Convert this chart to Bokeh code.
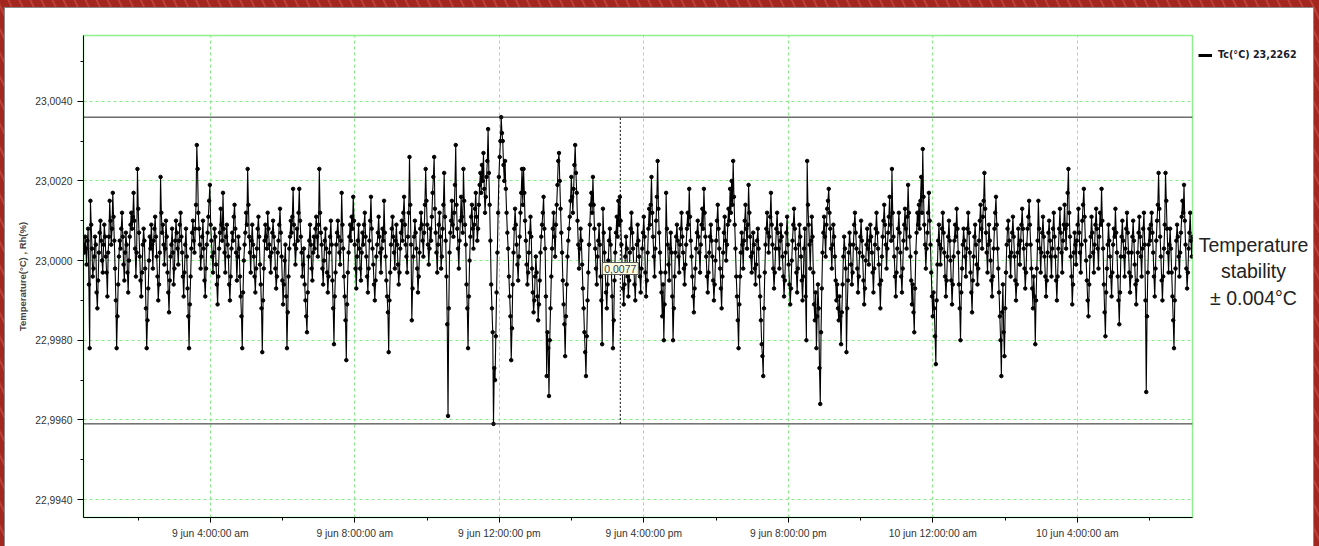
import numpy as np
from bokeh.plotting import figure
from bokeh.layouts import row
from bokeh.models import (FixedTicker, CustomJSTickFormatter, Span, Label, Legend,
                          LegendItem, GlobalInlineStyleSheet)
from bokeh.embed import file_html
from bokeh.resources import INLINE

# Tc readings, deviation from 23,0000 °C in units of 0.0001 °C (left to right)
tc_dev = [
    4, 2, 6, 3, -1, 5, 8, -6, -22, 15, 9, 3, -4, -2, 1, 6, 4, -8, -12, -5, 2, 7, 10, 5, 0, -3, 4, 9, 6, 1,
    -3, -9, 2, 6, 15, 10, 4, 8, 17, 11, 5, -2, -10, -22, -14, -6, 1, 5, 3, 8, 12, 6, -1, -5, 2, 7, 4, -3, -8, 0,
    6, 9, 12, 8, 11, 17, 10, 3, -4, 2, 23, 13, 7, 1, -5, -9, -3, 4, 8, 5, -2, -12, -22, -15, -7, 0, 6, 3, 9, 4,
    -2, 5, 8, 11, 6, 1, -4, -10, -6, 2, 21, 12, 7, 9, 4, -1, 3, 10, 6, -3, -8, -13, -5, 1, 4, 8, 2, -6, -2, 5,
    10, 7, 3, -1, 5, 9, 12, 6, 2, -4, -9, -3, 4, 8, 1, -7, -14, -22, -11, -4, 3, 7, 10, 5, 2, 8, 14, 29, 23, 12,
    8, 4, -2, 1, 6, 10, 3, -5, -9, -2, 4, 7, 11, 15, 19, 9, 5, 1, -3, 2, 8, 6, -1, -6, -11, -4, 3, 7, 13, 9,
    5, 17, 8, 2, -3, 6, 9, 4, 1, -6, -10, -4, 3, 7, 5, 11, 14, 8, 2, -5, 1, 6, 3, -4, -9, -14, -22, -8, 0, 4,
    7, 12, 9, 23, 14, 6, 2, -3, 5, 9, 4, 1, -4, -8, -2, 3, 8, 11, 6, -1, -6, -12, -23, -10, -2, 5, 9, 6, 3, 12,
    8, 4, 1, -3, 2, 7, 10, 6, 3, -2, -7, -4, 2, 5, 9, 13, 7, 1, -5, -11, -6, 0, 4, -9, -22, -13, -4, 3, 6, 10,
    7, 11, 18, 9, 4, -1, 3, 8, 5, 12, 18, 10, 6, 2, -4, -1, 3, -6, -10, -14, -18, -8, 1, 5, 9, 4, -2, -5, 2, 6,
    3, 8, 11, 6, 1, 9, 23, 12, 7, 4, -2, -6, 0, 5, 8, 3, -3, -8, -4, 2, 6, 10, 4, -5, -12, -21, -9, -3, 4, 7,
    10, 6, 2, -1, 5, 17, 9, 3, -4, -9, -15, -25, -11, -3, 2, 6, 9, 5, 11, 8, 16, 10, 4, -2, -7, 1, 5, 9, 3, -2,
    -5, 2, 7, 4, 9, 12, 6, 1, -4, -8, -2, 5, 10, 16, 8, 3, -1, -6, -10, -5, 1, 4, 7, 11, 6, 2, -3, 3, 8, 5,
    15, 7, 1, -5, -9, -13, -23, -10, -3, 4, 8, 11, 6, 2, -2, 5, 9, 4, -1, -6, -3, 3, 7, 10, 5, 12, 16, 9, 4, 1,
    -3, 6, 12, 26, 14, 4, -15, -7, 1, 6, 10, 7, 3, -2, -8, -4, 2, 8, 12, 9, 5, 1, 7, 14, 23, 15, 9, 4, -1, 3,
    8, 5, 11, 17, 21, 26, 13, 7, 2, -3, 4, 9, 12, 6, -2, 1, 8, 14, 22, 11, 5, -4, -16, -39, -12, 2, 7, 10, 15, 9,
    6, 12, 19, 29, 14, 8, 3, -2, 5, 10, 16, 11, 7, 23, 15, 9, 4, -6, -12, -22, -9, 0, 6, 11, 14, 8, 3, 9, 13, 17,
    11, 5, 8, 14, 19, 22, 17, 24, 20, 27, 18, 12, 16, 21, 25, 33, 22, 14, 5, -6, -12, -18, -41, -27, -30, -19, -8, 2, 12, 21,
    26, 30, 36, 32, 30, 24, 20, 25, 18, 12, 7, 3, -4, -9, -14, -25, -17, -6, 2, 8, 13, 9, 4, -1, -5, 1, 6, 12, 17, 23,
    14, 23, 17, 10, 5, -1, -6, -3, 2, 7, 11, 6, -2, -8, -13, -10, -4, 1, -3, -9, -15, -11, -5, 2, 6, 9, 12, 16, 8, 3,
    -9, -29, -18, -22, -34, -20, -12, -4, 3, 8, 12, 6, 1, 9, 14, 19, 25, 27, 20, 13, 7, 2, -5, -11, -16, -24, -14, -6, 1, 5,
    8, 11, 15, 21, 16, 12, 18, 24, 29, 22, 17, 10, 4, -2, 3, 8, 5, -1, -7, -12, -18, -23, -29, -19, -10, -3, 4, 9, 14, 17,
    12, 21, 14, 8, 3, -2, -6, 1, 5, 9, 4, -4, -10, -21, 13, 7, 2, -3, -8, -12, -6, 0, 5, 8, 4, -3, -9, -22, -15, -5,
    2, 7, 11, 6, 15, 9, 16, 10, 4, -2, -7, -11, -6, 1, 6, 3, -4, -9, -5, 2, 8, 12, 7, 3, -1, -6, -10, -3, 4, 9,
    5, 1, -4, -8, -2, 3, 7, 11, 6, -3, -9, -5, 2, 8, 13, 9, 14, 21, 12, 6, 1, -4, 3, 10, 16, 25, 13, 7, 2, -3,
    -8, -14, -6, -20, -11, -3, 17, 8, 4, -1, -5, 3, 7, 2, -9, -20, -12, -4, 2, 6, 9, 5, 1, -3, 4, 8, 12, 6, 2, -2,
    -6, -1, 4, 8, 12, 9, 18, 11, 5, 1, -4, -9, -13, -7, -2, 3, 7, 10, 6, 2, -3, 4, 9, 13, 8, 18, 12, 6, 1, -4,
    -8, -3, 2, 6, 9, 5, 1, -5, -10, -6, 0, 5, 10, 14, 8, 3, -2, -7, -12, -4, 2, 7, 11, 5, 0, 4, 9, 13, 10, 18,
    12, 20, 14, 25, 16, 9, 3, -4, -9, -15, -22, -11, -4, 2, 7, 4, -2, 5, 10, 14, 8, 3, 9, 19, 12, 6, 1, -3, 2, 7,
    4, -2, -6, -1, 5, 8, 3, -4, -9, -15, -21, -24, -29, -12, -3, 4, 8, 12, 7, 2, 6, 11, 17, 9, 4, -2, -7, -3, 3, 8,
    12, 7, 3, -2, 5, 9, 6, 1, -4, -9, -5, 2, 7, 11, 4, -1, -6, -11, -7, 0, 5, 9, 13, 8, 3, -3, -8, -2, 4, 9,
    6, 1, -5, -10, -4, 3, 8, -9, -20, 25, 14, 9, 4, -2, 5, 11, 6, -3, -11, -15, -8, -22, -14, -6, -12, -27, -36, -18, -7, 2,
    7, 11, 6, 1, 9, 13, 15, 18, 12, 8, 3, -2, 4, 9, 6, 1, -5, -10, -6, -12, -15, -9, -14, -21, -13, -6, 1, 6, 3, -2,
    -23, -12, -5, 2, 7, 4, -1, -6, -3, 4, 9, 12, 7, 3, -2, -8, -4, 2, 6, 10, 5, 1, -5, -11, -7, 0, 4, 8, 3, -1,
    5, 9, 6, 2, -3, -8, -2, 4, 8, 12, 7, 3, -1, -6, -12, -5, 1, 6, 10, 14, 9, 4, -2, 3, 7, 11, 16, 9, 5, 23,
    12, 6, 1, -4, -9, -3, 3, 8, 12, 7, 2, -4, -8, -2, 5, 9, 13, 8, 3, 11, 19, 12, 6, 1, -5, -11, -6, -13, -18, -7,
    2, 7, 12, 9, 14, 8, 15, 21, 12, 28, 16, 9, 4, -2, 3, 7, 12, 17, 10, 4, -3, -9, -14, -8, -12, -19, -26, -10, -1, 5,
    9, 4, -1, 3, 8, 12, 7, 2, -4, -9, -5, 1, 6, 10, 5, 0, -5, -11, -6, 1, 5, 9, 6, 13, 8, 2, -6, -12, -20, -8,
    -2, 4, 8, 5, 1, -4, 3, 8, 12, 7, 2, -3, -8, -13, -5, 1, 6, 9, 4, -1, -6, -2, 5, 10, 14, 8, 3, 11, 15, 22,
    13, 7, 2, -3, 4, 9, 5, 0, -5, -9, -4, 3, 8, 12, 16, 9, 3, -2, -8, -14, -20, -29, -13, -6, -18, -24, -12, -3, 4, 8,
    10, 5, 1, -4, 2, 7, 11, 6, 1, -5, -10, -6, 2, 8, 4, -1, 5, 9, 13, 8, 3, -2, -7, -3, 4, 8, 11, 15, 9, 4,
    -2, -7, -12, -4, -9, -21, -10, -2, 5, 15, 8, 3, -3, 2, 7, 11, 6, 1, -4, -9, -5, 2, 7, 10, 5, 1, -4, 3, 8, 12,
    6, 1, -5, -10, -4, 3, 8, 13, 7, 2, -3, 5, 9, 14, 8, 3, 9, 17, 23, 12, 6, 1, -4, -11, -6, 2, 7, 4, -1, 5,
    9, 13, 7, 2, -3, 4, 10, 14, 18, 11, 5, 0, -5, -10, -14, -6, 1, 6, 11, 7, 2, -3, 4, 9, 13, 8, 3, -2, 6, 12,
    9, 18, 10, 3, -6, -13, -19, -8, -2, 4, 9, 5, 1, -4, -9, -3, 4, 8, 6, 13, 7, 2, -4, -10, -16, -8, 1, 6, 10, 5,
    1, -4, 3, 8, 12, 7, 2, -3, -8, -4, 2, 6, 10, 5, -1, -6, -11, -5, 2, 7, 11, 6, 1, -4, 3, 8, 12, 4, -10, -33,
    -14, -3, 4, 8, 5, 9, 12, 7, 2, -4, -9, -2, 5, 10, 14, 22, 13, 6, 1, -5, -10, -4, 3, 9, 22, 15, 8, 2, -3, 4,
    8, 3, -3, -9, -15, -22, -10, -2, 5, 9, 6, 1, -4, 2, 7, 11, 15, 12, 19, 10, 4, -2, -7, -3, 3, 7, 12, 5, 1, 6,
]
base_temp = 23.0
first_hour = 0.49      # hours after 9 jun 0:00
last_hour = 31.19
cursor_hour = 15.35
cursor_label_y = 22.9998

x_ticks = [4, 8, 12, 16, 20, 24, 28]
x_minor = [2, 6, 10, 14, 18, 22, 26, 30]
x_labels = ["9 jun 4:00:00 am", "9 jun 8:00:00 am", "9 jun 12:00:00 pm", "9 jun 4:00:00 pm",
            "9 jun 8:00:00 pm", "10 jun 12:00:00 am", "10 jun 4:00:00 am"]
y_ticks = [22.994, 22.996, 22.998, 23.0, 23.002, 23.004]
y_minor = [22.995, 22.997, 22.999, 23.001, 23.003, 23.005]
legend_text = "Tc(°C) 23,2262"
side_note = ["Temperature", "stability", "± 0.004°C"]

temp = base_temp + np.array(tc_dev) / 1e4
hours = np.linspace(first_hour, last_hour, len(temp))
tmax, tmin = temp.max(), temp.min()

FONT = "Liberation Sans"

p = figure(width=1191, height=538, output_backend="svg", toolbar_location=None,
           x_range=(first_hour, last_hour), y_range=(22.99355, 23.00565),
           min_border_left=78, min_border_right=4, min_border_top=27, min_border_bottom=29,
           background_fill_color="white", border_fill_color="white",
           outline_line_color="#8fef8f", outline_line_width=1.5)

# axes
p.xaxis.ticker = FixedTicker(ticks=x_ticks, minor_ticks=x_minor)
p.xaxis.major_label_overrides = dict(zip(x_ticks, x_labels))
p.yaxis.ticker = FixedTicker(ticks=y_ticks, minor_ticks=y_minor)
p.yaxis.formatter = CustomJSTickFormatter(code="return tick.toFixed(4).replace('.', ',')")
p.yaxis.axis_label = "Temperature(°C) , Rh(%)"
p.yaxis.axis_label_text_font = FONT
p.yaxis.axis_label_text_font_size = "9.5px"
p.yaxis.axis_label_text_font_style = "bold"
p.yaxis.axis_label_standoff = 4
for ax in (p.xaxis, p.yaxis):
    ax.major_label_text_font = FONT
    ax.major_label_text_font_size = "10.3px"
    ax.major_label_text_color = "#333333"
    ax.axis_line_color = "black"
    ax.major_tick_line_color = "black"
    ax.minor_tick_line_color = "black"
    ax.major_tick_in = 0
    ax.minor_tick_in = 0
    ax.minor_tick_out = 3
p.yaxis.major_tick_out = 6
p.xaxis.major_tick_out = 5

for g in (p.xgrid, p.ygrid):
    g.grid_line_color = "#86ec86"
    g.grid_line_dash = "3 3"
    g.grid_line_width = 1

# max / min lines
p.add_layout(Span(location=tmax, dimension="width", line_color="#222222", line_width=1))
p.add_layout(Span(location=tmin, dimension="width", line_color="#222222", line_width=1))

# series
p.line(hours, temp, line_color="black", line_width=1.1)
p.scatter(hours, temp, size=3.5, color="black")

# cursor
p.segment(x0=[cursor_hour], y0=[tmin], x1=[cursor_hour], y1=[tmax],
          line_color="black", line_dash="2 2", line_width=1)
p.add_layout(Label(x=cursor_hour, y=cursor_label_y, text=f"{tmax - tmin:.4f}".replace(".", ","),
                   text_align="center", text_baseline="middle", text_font=FONT,
                   text_font_size="10.5px", text_color="#2b3550",
                   background_fill_color="#ffffe1", border_line_color="#555555", padding=2))

# right-hand strip: legend and note (its frame lines up with the main frame, 35..517 px)
side = figure(width=117, height=538, output_backend="svg", toolbar_location=None,
              x_range=(0, 1), y_range=(0, 1), x_axis_location=None, y_axis_location=None,
              min_border=0, outline_line_color=None,
              background_fill_color="white", border_fill_color="white")
side.grid.visible = False
# legend swatch only: a renderer whose single point lies outside the strip's range
swatch = side.line(x=[-5, -4], y=[-5, -5], line_color="black", line_width=3)
legend = Legend(items=[LegendItem(label=legend_text, renderers=[swatch])],
                location=(2, 457), padding=0, margin=0, spacing=0,
                glyph_width=14, glyph_height=10, label_height=10, label_standoff=6,
                label_text_font="DejaVu Sans", label_text_font_size="9.6px",
                label_text_font_style="bold", label_text_color="#1a1a2a",
                border_line_color=None, background_fill_alpha=0)
side.add_layout(legend)
for i, line in enumerate(side_note):
    side.add_layout(Label(x=57, y=273 - 26.5 * i, x_units="screen", y_units="screen", text=line,
                          text_align="center", text_baseline="middle", text_font=FONT,
                          text_font_size="19.5px", text_color="#222222"))

layout = row(p, side, spacing=0)
layout.stylesheets = [GlobalInlineStyleSheet(css="""
html, body { margin: 0; padding: 0; overflow: hidden; }
body { padding: 8px 0 0 5px;
       background: repeating-linear-gradient(65deg, #a3271f 0px, #a3271f 7px, #c2493f 8px, #a3271f 10px); }
""")]
layout.styles = {"outline": "1px solid #8a8a8a", "background": "white"}

open("out.html", "w").write(file_html(layout, INLINE))
